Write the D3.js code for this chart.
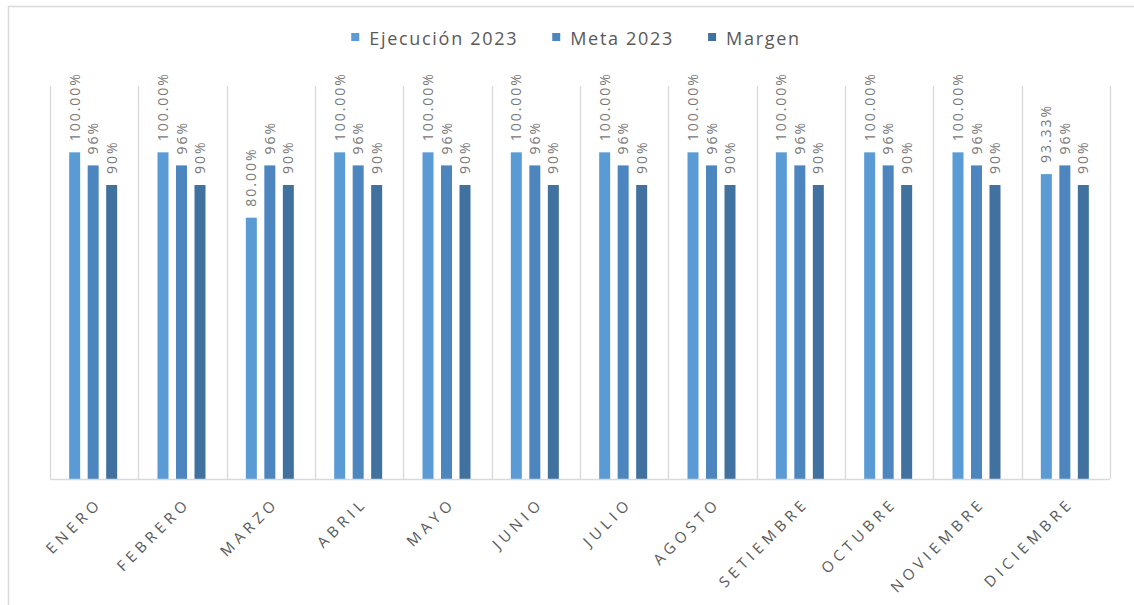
<!DOCTYPE html>
<html>
<head>
<meta charset="utf-8">
<script src="https://cdn.jsdelivr.net/npm/d3@7"></script>
<style>
  html, body { margin: 0; padding: 0; background: #ffffff; }
  svg { display: block; font-family: "Open Sans", "Noto Sans", sans-serif; }
</style>
</head>
<body>
<svg id="chart" width="1134" height="605"></svg>
<script>
// Monthly execution vs. target and margin
const months = ["ENERO", "FEBRERO", "MARZO", "ABRIL", "MAYO", "JUNIO",
                "JULIO", "AGOSTO", "SETIEMBRE", "OCTUBRE", "NOVIEMBRE", "DICIEMBRE"];
const seriesNames = ["Ejecución 2023", "Meta 2023", "Margen"];
const ejecucion = [1.00, 1.00, 0.80, 1.00, 1.00, 1.00, 1.00, 1.00, 1.00, 1.00, 1.00, 0.9333];
const meta      = [0.96, 0.96, 0.96, 0.96, 0.96, 0.96, 0.96, 0.96, 0.96, 0.96, 0.96, 0.96];
const margen    = [0.90, 0.90, 0.90, 0.90, 0.90, 0.90, 0.90, 0.90, 0.90, 0.90, 0.90, 0.90];
const yDomain = [0, 1.2];

const colors = ["#5b9bd5", "#4d86bf", "#41729f"];
const formats = [d3.format(".2%"), d3.format(".0%"), d3.format(".0%")];
const seriesValues = [ejecucion, meta, margen];

const svg = d3.select("#chart");
const plot = { left: 50, right: 1110, top: 87, bottom: 479 };

// outer chart frame
svg.append("rect")
  .attr("x", 8.5).attr("y", 6.5)
  .attr("width", 1140).attr("height", 640)
  .attr("fill", "none").attr("stroke", "#d9d9d9").attr("stroke-width", 1.5);

const x0 = d3.scaleBand().domain(months).range([plot.left, plot.right]).padding(0);
const groupW = x0.bandwidth();
const innerW = 48;
const x1 = d3.scaleBand().domain(seriesNames)
  .range([(groupW - innerW) / 2 - 1, (groupW - innerW) / 2 - 1 + innerW])
  .paddingInner(7.5 / 18.5).paddingOuter(0);
const y = d3.scaleLinear().domain(yDomain).range([plot.bottom, plot.top]);

// vertical category separators
const seps = months.map(m => x0(m)).concat([plot.right]);
svg.append("g").selectAll("line").data(seps).join("line")
  .attr("x1", d => Math.round(d) + 0.5).attr("x2", d => Math.round(d) + 0.5)
  .attr("y1", plot.top - 1).attr("y2", plot.bottom)
  .attr("stroke", "#d9d9d9").attr("stroke-width", 1.3);

// bars
const rows = months.map((m, i) => ({
  month: m,
  items: seriesNames.map((s, k) => ({ series: s, k, value: seriesValues[k][i] }))
}));

const groups = svg.append("g").selectAll("g").data(rows).join("g")
  .attr("transform", d => `translate(${x0(d.month)},0)`);

groups.selectAll("rect").data(d => d.items).join("rect")
  .attr("x", d => x1(d.series))
  .attr("width", x1.bandwidth())
  .attr("y", d => y(d.value))
  .attr("height", d => plot.bottom - y(d.value))
  .attr("fill", d => colors[d.k]);

// value labels, rotated
groups.selectAll("text").data(d => d.items).join("text")
  .attr("transform", d => `translate(${x1(d.series) + x1.bandwidth() / 2},${y(d.value) - 11}) rotate(-90)`)
  .attr("dy", "0.36em")
  .attr("text-anchor", "start")
  .attr("fill", "#767676")
  .style("font-size", "14px")
  .style("letter-spacing", "2px")
  .text(d => formats[d.k](d.value));

// x axis baseline
svg.append("line")
  .attr("x1", plot.left).attr("x2", plot.right)
  .attr("y1", plot.bottom + 0.5).attr("y2", plot.bottom + 0.5)
  .attr("stroke", "#d9d9d9").attr("stroke-width", 1.5);

// category labels
const xAxis = d3.axisBottom(x0).tickSize(0).tickPadding(0);
const axisG = svg.append("g").attr("transform", `translate(0,${plot.bottom})`).call(xAxis);
axisG.select(".domain").remove();
axisG.selectAll(".tick text")
  .attr("transform", "translate(9,25) rotate(-45)")
  .attr("dy", 0).attr("y", 0).attr("x", 0)
  .attr("text-anchor", "end")
  .attr("fill", "#595959")
  .style("font-size", "15px")
  .style("letter-spacing", "4.6px")
  .style("font-family", "\"Open Sans\", sans-serif");

// legend
const legend = svg.append("g");
const items = legend.selectAll("g").data(seriesNames).join("g");
items.append("rect").attr("width", 8).attr("height", 8).attr("y", -13)
  .attr("fill", (d, i) => colors[i]);
items.append("text").attr("x", 18).attr("y", -1)
  .attr("fill", "#595959")
  .style("font-size", "18px")
  .style("letter-spacing", "1.7px")
  .text(d => d);
let cursor = 0;
items.each(function () {
  d3.select(this).attr("transform", `translate(${cursor},0)`);
  cursor += this.getBBox().width + 34;
});
const totalW = cursor - 34;
legend.attr("transform", `translate(${576 - totalW / 2},46)`);
</script>
</body>
</html>
